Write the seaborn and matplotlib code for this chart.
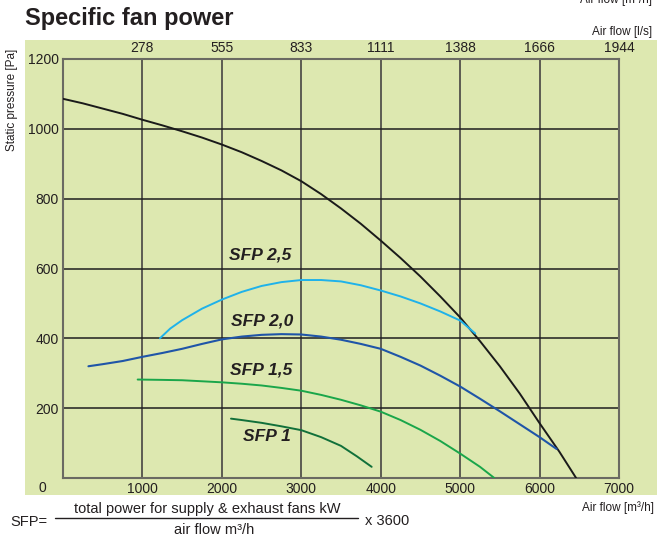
import matplotlib
matplotlib.use("Agg")
import matplotlib.pyplot as plt
from matplotlib.patches import Rectangle
from matplotlib.lines import Line2D
import seaborn as sns
import pandas as pd

# Air flow [m3/h] and static pressure [Pa] for each curve
fan_x = [0, 250, 500, 750, 1000, 1250, 1500, 1750, 2000, 2250, 2500, 2750, 3000,
         3250, 3500, 3750, 4000, 4250, 4500, 4750, 5000, 5250, 5500, 5750, 6000,
         6250, 6460]
fan_y = [1086, 1073, 1058, 1043, 1026, 1010, 993, 975, 955, 933, 908, 881, 850,
         813, 772, 728, 680, 630, 577, 520, 460, 392, 320, 242, 157, 75, 0]

sfp25_x = [1220, 1350, 1500, 1750, 2000, 2250, 2500, 2750, 3000, 3250, 3500, 3750,
           4000, 4250, 4500, 4750, 5000, 5190]
sfp25_y = [400, 428, 452, 485, 511, 533, 550, 561, 567, 567, 563, 552,
           537, 520, 500, 477, 451, 414]

sfp20_x = [320, 500, 750, 1000, 1250, 1500, 1750, 2000, 2250, 2500, 2750, 3000,
           3250, 3500, 3750, 4000, 4250, 4500, 4750, 5000, 5250, 5500, 5750, 6000,
           6215]
sfp20_y = [320, 326, 335, 347, 358, 370, 384, 397, 405, 410, 412, 411,
           405, 396, 384, 370, 347, 322, 293, 262, 227, 191, 154, 117,
           83]

sfp15_x = [940, 1250, 1500, 1750, 2000, 2250, 2500, 2750, 3000, 3250, 3500, 3750,
           4000, 4250, 4500, 4750, 5000, 5250, 5430]
sfp15_y = [282, 281, 280, 277, 274, 270, 265, 258, 250, 238, 224, 208,
           190, 166, 138, 106, 70, 32, 0]

sfp10_x = [2115, 2250, 2500, 2750, 3000, 3250, 3500, 3700, 3886]
sfp10_y = [170, 166, 158, 148, 137, 117, 92, 62, 32]

x_ticks = [1000, 2000, 3000, 4000, 5000, 6000, 7000]
y_ticks = [200, 400, 600, 800, 1000, 1200]
top_labels = ["278", "555", "833", "1111", "1388", "1666", "1944"]

sfp_labels = ["SFP 2,5", "SFP 2,0", "SFP 1,5", "SFP 1"]
sfp_label_pos = [(2487, 638), (2505, 449), (2490, 309), (2565, 118)]

sns.set_theme(style="white")
plt.rcParams["font.family"] = ["Liberation Sans", "DejaVu Sans"]

TEXT = "#231f20"
BG = "#dde8b0"

fig = plt.figure(figsize=(6.57, 5.41), dpi=100)
W, H = 657, 541

# pale green panel behind the chart
fig.patches.append(Rectangle((25 / W, 1 - 495 / H), 1 - 25 / W, (495 - 40) / H,
                             transform=fig.transFigure, facecolor=BG,
                             edgecolor="none", zorder=-10))

ax = fig.add_axes([63 / W, 1 - 478 / H, (619 - 63) / W, (478 - 59) / H])
ax.set_facecolor(BG)

curves = [
    (fan_x, fan_y, "#1a1a1a", 1.4),
    (sfp25_x, sfp25_y, "#1fb2ea", 1.4),
    (sfp20_x, sfp20_y, "#1f55a8", 1.5),
    (sfp15_x, sfp15_y, "#1aa64a", 1.4),
    (sfp10_x, sfp10_y, "#11703a", 1.4),
]
for xs, ys, col, lw in curves:
    df = pd.DataFrame({"flow": xs, "pressure": ys})
    sns.lineplot(data=df, x="flow", y="pressure", ax=ax, color=col,
                 linewidth=lw, sort=False, zorder=3)

for label, (lx, ly) in zip(sfp_labels, sfp_label_pos):
    ax.text(lx, ly, label, fontsize=12.5, fontweight="bold", style="italic",
            color=TEXT, ha="center", va="center", zorder=4)

ax.set_xlim(0, 7000)
ax.set_ylim(0, 1200)
ax.set_xticks(x_ticks)
ax.set_yticks(y_ticks)
ax.set_xlabel("")
ax.set_ylabel("")
ax.tick_params(axis="both", length=0, labelsize=10, colors=TEXT)
ax.tick_params(axis="x", pad=3)
ax.tick_params(axis="y", pad=3)

# grid: vertical lines grey, horizontal lines dark
ax.grid(False)
for xv in x_ticks[:-1]:
    ax.axvline(xv, color="#5c5c52", linewidth=1.4, zorder=1)
for yv in y_ticks[:-1]:
    ax.axhline(yv, color="#1e1e1e", linewidth=1.1, zorder=1)
for s in ax.spines.values():
    s.set_color("#6a6a62")
    s.set_linewidth(1.5)
    s.set_visible(True)

# secondary scale: air flow in l/s
top = ax.secondary_xaxis("top")
top.set_xticks(x_ticks)
top.set_xticklabels(top_labels)
top.tick_params(length=0, labelsize=10, colors=TEXT, pad=3)
top.spines["top"].set_visible(False)

# shared zero at the corner
fig.text(42 / W, 1 - 488 / H, "0", fontsize=10, color=TEXT, ha="center", va="center")

fig.text(25 / W, 1 - 18 / H, "Specific fan power", fontsize=17, fontweight="bold",
         color=TEXT, ha="left", va="center")
fig.text(12 / W, 1 - 100 / H, "Static pressure [Pa]", fontsize=8.5, color=TEXT,
         rotation=90, ha="center", va="center")
fig.text(652 / W, 1 - 32 / H, "Air flow [l/s]", fontsize=8.5, color=TEXT,
         ha="right", va="center")
fig.text(652 / W, 1 - 0 / H, "Air flow [m³/h]", fontsize=8.5, color=TEXT,
         ha="right", va="center")
fig.text(654 / W, 1 - 508 / H, "Air flow [m³/h]", fontsize=8.5, color=TEXT,
         ha="right", va="center")

# SFP definition below the chart
fig.text(10 / W, 1 - 522 / H, "SFP=", fontsize=10.5, color=TEXT, ha="left", va="center")
fig.text(207 / W, 1 - 509 / H, "total power for supply & exhaust fans kW", fontsize=10.5,
         color=TEXT, ha="center", va="center")
fig.lines.append(Line2D([55 / W, 358 / W], [1 - 518 / H, 1 - 518 / H],
                        transform=fig.transFigure, color=TEXT, linewidth=1))
fig.text(214 / W, 1 - 530 / H, "air flow m³/h", fontsize=10.5, color=TEXT,
         ha="center", va="center")
fig.text(365 / W, 1 - 521 / H, "x 3600", fontsize=10.5, color=TEXT, ha="left", va="center")

fig.savefig("out.png", dpi=100, facecolor="white")
